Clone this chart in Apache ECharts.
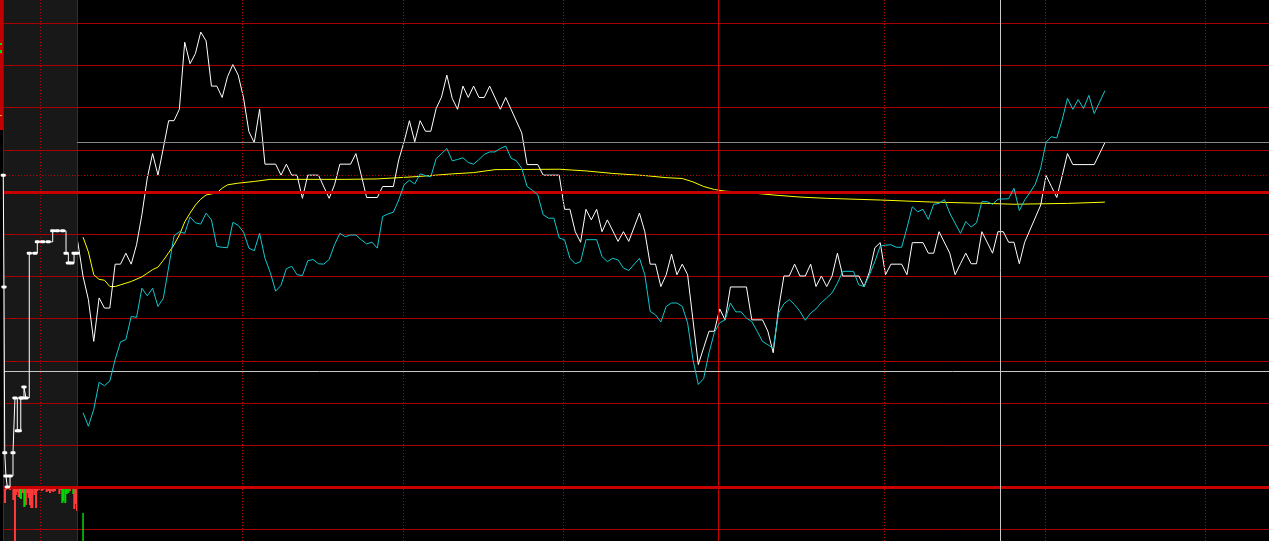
<!DOCTYPE html>
<html>
<head>
<meta charset="utf-8">
<script src="https://cdn.jsdelivr.net/npm/echarts@6/dist/echarts.min.js"></script>
<style>
html,body{margin:0;padding:0;background:#000;overflow:hidden;}
#c{width:1269px;height:541px;}
</style>
</head>
<body>
<div id="c"></div>
<script>
// ---- DATA (x: minutes since 09:30 open; y: change in grid units relative to previous close) ----
const pricePoints = [[0,-1.17],[1,-2.00],[2,-2.55],[3,-3.54],[4,-2.51],[5,-2.75],[6,-2.75],[7,-1.71],[8,-1.71],[9,-1.45],[10,-1.71],[11,-1.25],[12,-0.54],[13,0.33],[14,0.91],[15,0.40],[16,1.04],[17,1.69],[18,1.69],[19,1.96],[20,3.55],[21,3.04],[22,3.28],[23,3.79],[24,3.58],[25,2.51],[26,2.51],[27,2.24],[28,2.73],[29,3.02],[30,2.77],[31,2.23],[32,1.43],[33,1.17],[34,1.96],[35,0.66],[37,0.66],[38,0.40],[39,0.66],[40,0.40],[41,0.40],[42,-0.15],[43,0.40],[45,0.40],[47,-0.15],[48,0.17],[49,0.66],[51,0.66],[52,0.91],[53,0.40],[54,-0.13],[56,-0.13],[57,0.13],[59,0.13],[60,0.76],[61,1.19],[62,1.69],[63,1.19],[64,1.69],[65,1.44],[66,1.44],[67,1.98],[68,2.25],[69,2.77],[70,2.22],[71,1.96],[72,2.51],[73,2.24],[74,2.51],[75,2.24],[76,2.24],[77,2.51],[79,1.96],[80,2.24],[81,1.96],[83,1.40],[84,0.65],[86,0.65],[87,0.40],[90,0.40],[91,-0.41],[92,-0.41],[93,-0.94],[94,-1.19],[95,-0.41],[96,-0.66],[97,-0.41],[98,-0.94],[99,-0.66],[101,-1.17],[102,-0.94],[103,-1.17],[105,-0.50],[106,-0.94],[107,-1.71],[108,-1.71],[109,-2.24],[110,-1.96],[111,-1.47],[112,-1.96],[113,-1.71],[114,-1.96],[115,-3.03],[116,-4.09],[117,-3.69],[118,-3.30],[119,-3.30],[120,-2.77],[121,-3.03],[122,-2.25],[125,-2.25],[126,-3.03],[128,-3.03],[129,-3.30],[130,-3.81],[131,-2.77],[132,-1.99],[133,-1.99],[134,-1.71],[135,-1.99],[136,-1.99],[137,-1.71],[138,-2.24],[139,-1.99],[140,-2.24],[141,-1.99],[142,-1.45],[143,-1.99],[146,-1.99],[147,-2.24],[148,-1.89],[149,-1.32],[150,-1.20],[151,-1.96],[152,-1.71],[154,-1.71],[155,-1.96],[156,-1.20],[158,-1.20],[159,-1.45],[160,-1.45],[161,-0.94],[163,-1.45],[164,-1.96],[165,-1.70],[166,-1.45],[167,-1.70],[168,-1.70],[169,-0.94],[171,-1.45],[172,-0.94],[173,-0.94],[174,-1.19],[175,-1.19],[176,-1.70],[177,-1.19],[180,-0.31],[181,0.39],[182,0.13],[183,-0.13],[184,0.38],[185,0.91],[186,0.65],[190,0.65],[192,1.17]];

const indexPoints = [[1,-5.23],[2,-5.55],[3,-5.15],[4,-4.51],[5,-4.59],[6,-4.48],[7,-3.97],[8,-3.55],[9,-3.50],[10,-2.95],[11,-2.97],[12,-2.28],[13,-2.46],[14,-2.28],[15,-2.71],[16,-2.52],[18,-1.04],[19,-0.94],[20,-0.98],[21,-0.59],[22,-0.73],[23,-0.76],[24,-0.50],[25,-0.66],[26,-1.29],[27,-1.31],[28,-1.32],[29,-0.72],[30,-0.79],[31,-0.95],[32,-1.33],[33,-1.39],[34,-0.98],[35,-1.57],[36,-1.91],[37,-2.35],[38,-2.21],[39,-1.82],[40,-1.76],[41,-1.96],[42,-1.98],[43,-1.63],[44,-1.60],[45,-1.70],[46,-1.71],[47,-1.60],[48,-1.25],[49,-0.98],[50,-1.06],[51,-1.02],[52,-1.02],[53,-1.13],[54,-1.23],[55,-1.19],[56,-1.33],[57,-0.58],[58,-0.52],[59,-0.48],[60,-0.19],[61,0.17],[62,0.28],[63,0.19],[64,0.43],[65,0.39],[66,0.36],[67,0.79],[68,0.91],[69,1.03],[70,0.74],[71,0.77],[72,0.81],[73,0.70],[74,0.66],[75,0.77],[76,0.89],[77,0.95],[78,0.95],[79,1.03],[80,1.09],[81,0.80],[82,0.74],[83,0.56],[84,0.13],[85,0.04],[86,-0.07],[87,-0.54],[88,-0.62],[89,-0.62],[90,-1.09],[91,-1.13],[92,-1.57],[93,-1.70],[94,-1.65],[95,-1.13],[97,-1.13],[98,-1.53],[99,-1.65],[100,-1.57],[101,-1.61],[102,-1.80],[103,-1.86],[105,-1.57],[106,-1.96],[107,-2.83],[108,-2.91],[109,-3.08],[110,-2.71],[111,-2.63],[112,-2.63],[113,-2.71],[114,-3.10],[115,-3.97],[116,-4.56],[117,-4.42],[118,-3.81],[119,-3.33],[120,-3.10],[121,-3.03],[122,-2.63],[123,-2.84],[124,-2.84],[125,-2.99],[126,-3.07],[127,-3.30],[128,-3.54],[129,-3.62],[130,-3.70],[131,-2.87],[132,-2.65],[133,-2.55],[134,-2.67],[135,-2.83],[136,-3.04],[137,-2.87],[138,-2.77],[139,-2.62],[140,-2.51],[141,-2.39],[142,-2.16],[143,-1.88],[145,-1.88],[146,-2.20],[147,-2.24],[148,-1.96],[149,-1.65],[150,-1.28],[151,-1.26],[152,-1.25],[153,-1.31],[154,-1.31],[155,-0.85],[156,-0.35],[157,-0.47],[158,-0.41],[159,-0.65],[160,-0.29],[161,-0.27],[162,-0.18],[163,-0.50],[165,-0.98],[166,-0.70],[167,-0.83],[168,-0.73],[169,-0.23],[170,-0.23],[171,-0.29],[172,-0.17],[174,-0.16],[175,0.09],[176,-0.44],[177,-0.19],[178,-0.01],[179,0.19],[180,0.57],[181,1.18],[182,1.31],[183,1.28],[184,1.70],[185,2.22],[186,1.96],[187,2.19],[188,1.98],[189,2.29],[190,1.86],[191,2.13],[192,2.40]];

const avgPoints = [[1,-1.07],[2,-1.42],[3,-1.96],[4,-2.07],[5,-2.09],[6,-2.24],[7,-2.24],[8,-2.20],[10,-2.12],[12,-2.01],[14,-1.84],[15,-1.78],[16,-1.62],[17,-1.44],[18,-1.25],[19,-1.02],[20,-0.71],[21,-0.50],[22,-0.31],[23,-0.17],[24,-0.07],[26,-0.02],[27,0.09],[28,0.17],[30,0.21],[33,0.25],[36,0.30],[50,0.30],[56,0.31],[64,0.37],[70,0.43],[74,0.46],[78,0.53],[90,0.54],[95,0.50],[100,0.44],[106,0.39],[110,0.34],[113,0.32],[115,0.24],[117,0.13],[119,0.06],[121,0.02],[125,-0.01],[130,-0.07],[135,-0.12],[140,-0.15],[150,-0.19],[160,-0.24],[170,-0.27],[175,-0.29],[185,-0.27],[192,-0.24]];

// call auction 09:15-09:25 (x: seconds since 09:15)
const auctionPoints = [[2,0.40],[8,-2.25],[14,-6.18],[24,-6.73],[35,-6.99],[57,-6.73],[81,-6.18],[97,-4.88],[116,-5.66],[132,-5.66],[144,-4.88],[154,-4.88],[170,-4.62],[186,-4.88],[213,-1.45],[259,-1.45],[278,-1.18],[322,-1.18],[367,-1.18],[403,-0.92],[440,-0.92],[484,-0.92],[511,-1.45],[530,-1.68],[557,-1.68],[576,-1.45],[598,-1.45]];
const auctionVolUp = [[16,1500],[24,200],[57,200],[84,1200],[97,5300],[105,700],[116,400],[127,900],[160,500],[186,1700],[197,500],[208,1000],[219,1700],[229,2000],[238,2000],[254,700],[268,2000],[278,300],[294,200],[314,300],[327,200],[354,400],[367,300],[381,500],[395,300],[408,400],[422,300],[457,600],[470,200],[543,300],[578,2100],[592,1600],[600,2300]];
const auctionVolDown = [[138,1000],[146,1100],[173,1900],[481,1500],[489,1300],[505,1500],[516,600],[530,500],[570,600]];
const minuteVolDown = [[1,2800]];

// reference levels (grid units / minutes)
const timeGridMinutes = [30.7, 60.8, 90.7, 150.7, 180.8, 210.7];
const middayMinute = 119.7;
const openMinute = -0.13;
const auctionMidSecond = 300;
const dottedLevel = 0.403;
const grayLevel = 1.185;
const crossMinute = 172.39;
const crossLevel = -4.242;

// ---- LAYOUT ----
const YMIN = -8.270, YMAX = 4.550;      // full-height price scale
const LINE_TOP = 23.2, LINE_H = 506.4;  // +4 .. -8 levels
const XMIN = -13.963, XMAX = 222.67;
const thinRed = '#a80000', thickRed = '#c80000', dotRed = '#b80000';

const chart = echarts.init(document.getElementById('c'), null, {renderer: 'canvas'});

const ml = (data) => ({silent:true, symbol:['none','none'], label:{show:false}, data});

const mainLines = [];
timeGridMinutes.forEach(m => mainLines.push({xAxis:m, lineStyle:{color:dotRed, type:[1,2], width:1}}));
mainLines.push({xAxis:middayMinute, lineStyle:{color:thickRed, type:'solid', width:1}});
mainLines.push({xAxis:openMinute, lineStyle:{color:thinRed, type:'solid', width:1}});
mainLines.push({yAxis:0, lineStyle:{color:thickRed, type:'solid', width:3}});
mainLines.push({yAxis:-7, lineStyle:{color:thickRed, type:'solid', width:3}});
mainLines.push({yAxis:dottedLevel, lineStyle:{color:dotRed, type:[1,2], width:1}});
mainLines.push([{coord:[openMinute, grayLevel], lineStyle:{color:'#8a8a8a', type:'solid', width:1}}, {coord:[XMAX, grayLevel]}]);
mainLines.push({xAxis:crossMinute, lineStyle:{color:'#c8c8c8', type:'solid', width:1}});
mainLines.push({yAxis:crossLevel, lineStyle:{color:'#c8c8c8', type:'solid', width:1}});

const option = {
  backgroundColor: '#000',
  animation: false,
  graphic: [
    {type:'rect', shape:{x:0, y:0, width:3, height:130}, style:{fill:'#c00000'}, z:100},
    {type:'rect', shape:{x:0, y:43, width:2, height:2}, style:{fill:'#00e000'}, z:101},
    {type:'rect', shape:{x:0, y:50, width:2, height:3}, style:{fill:'#00e000'}, z:101},
    {type:'rect', shape:{x:0, y:115, width:2, height:1}, style:{fill:'#e0c000'}, z:101}
  ],
  grid: [
    {left:3, right:0, top:0, height:541, z:1},
    {left:3, width:74, top:0, height:541, show:true, backgroundColor:'#181818', borderWidth:0, z:-1},
    {left:3, width:74, top:488, height:53},
    {left:3, right:0, top:488, height:53},
    {left:3, right:0, top:LINE_TOP, height:LINE_H, z:0}
  ],
  xAxis: [
    {gridIndex:0, type:'value', min:XMIN, max:XMAX, show:false},
    {gridIndex:1, type:'value', min:0, max:600, show:false},
    {gridIndex:2, type:'value', min:0, max:600, show:false},
    {gridIndex:3, type:'value', min:XMIN, max:XMAX, show:false},
    {gridIndex:4, type:'value', min:XMIN, max:XMAX, show:false}
  ],
  yAxis: [
    {gridIndex:0, type:'value', min:YMIN, max:YMAX, show:false},
    {gridIndex:1, type:'value', min:YMIN, max:YMAX, show:false},
    {gridIndex:2, type:'value', min:0, max:5300, inverse:true, show:false},
    {gridIndex:3, type:'value', min:0, max:5300, show:false},
    {gridIndex:4, type:'value', min:-8, max:4, interval:1, z:1,
      axisLine:{show:false}, axisTick:{show:false}, axisLabel:{show:false},
      splitLine:{show:true, lineStyle:{color:thinRed, width:1}}}
  ],
  series: [
    {type:'line', xAxisIndex:0, yAxisIndex:0, data:[], z:1, markLine: ml(mainLines)},
    {type:'line', xAxisIndex:1, yAxisIndex:1, data:[], z:1, markLine: ml([
      {xAxis:auctionMidSecond, lineStyle:{color:dotRed, type:[1,2], width:1}},
      {xAxis:0, lineStyle:{color:thinRed, type:'solid', width:1}}
    ])},
    {name:'均价', type:'line', xAxisIndex:0, yAxisIndex:0, data:avgPoints, showSymbol:false, z:3,
      lineStyle:{color:'#ffff00', width:1}},
    {name:'价格', type:'line', xAxisIndex:0, yAxisIndex:0, data:pricePoints, showSymbol:false, z:4,
      lineStyle:{color:'#ffffff', width:1}},
    {name:'指数', type:'line', xAxisIndex:0, yAxisIndex:0, data:indexPoints, showSymbol:false, z:5,
      lineStyle:{color:'#10c8d0', width:1}},
    {name:'集合竞价', type:'line', xAxisIndex:1, yAxisIndex:1, data:auctionPoints, step:'end', z:5,
      symbol:'roundRect', symbolSize:[5,3], showSymbol:true,
      itemStyle:{color:'#ffffff'}, lineStyle:{color:'#ffffff', width:1}},
    {type:'bar', xAxisIndex:2, yAxisIndex:2, data:auctionVolUp, barWidth:2, barGap:'-100%', z:3,
      itemStyle:{color:'#ff3a3a'}},
    {type:'bar', xAxisIndex:2, yAxisIndex:2, data:auctionVolDown, barWidth:2, barGap:'-100%', z:3,
      itemStyle:{color:'#00d800'}},
    {type:'bar', xAxisIndex:3, yAxisIndex:3, data:minuteVolDown, barWidth:1.5, z:3,
      itemStyle:{color:'#00d800'}}
  ]
};
chart.setOption(option);
</script>
</body>
</html>
